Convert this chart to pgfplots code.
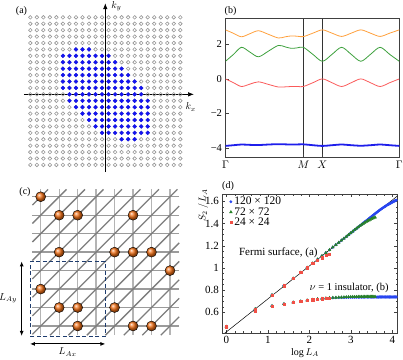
\documentclass[border=0pt]{standalone}
\usepackage{fontspec}
\setmainfont{Liberation Serif}
\usepackage{pgfplots}
\pgfplotsset{compat=1.18}
\usetikzlibrary{arrows.meta}

\definecolor{dotgray}{RGB}{150,150,150}
\definecolor{fsblue}{RGB}{20,20,240}
\definecolor{bandorange}{RGB}{255,160,60}
\definecolor{bandgreen}{RGB}{60,160,60}
\definecolor{bandred}{RGB}{250,90,90}
\definecolor{bandblue}{RGB}{30,30,235}
\definecolor{ballorange}{RGB}{240,110,20}
\definecolor{boxblue}{RGB}{30,60,110}
\definecolor{dblue}{RGB}{40,70,240}
\definecolor{dgreen}{RGB}{40,130,40}
\definecolor{dred}{RGB}{240,80,70}

\pgfplotsset{
  panel/.style={scale only axis, anchor=south west,
    axis line style={black!75}, tick style={black!75},
    tick align=inside, major tick length=3pt, minor tick length=1.5pt},
  dmark/.style={only marks,
    legend image code/.code={\draw[mark repeat=2,mark phase=2,##1] plot coordinates {(0pt,0pt)(3pt,0pt)(6pt,0pt)};}},
}

\begin{document}
\begin{tikzpicture}[x=1pt,y=1pt,font=\fontsize{10}{12}\selectfont]
\path[use as bounding box] (0,0) rectangle (403,359);

% ---------- (a) Fermi sea on the 24x24 momentum grid
\begin{axis}[scale only axis, anchor=south west,
  at={(23.8pt,187pt)}, width=170.2pt, height=168.8pt,
  xmin=-12.5, xmax=13.6, ymin=-12.1, ymax=14.2,
  axis lines=middle, axis on top, clip=false,
  xtick=\empty, ytick=\empty,
  every inner x axis line/.append style={line width=0.7pt,-{Latex[length=6pt,width=4.5pt]}},
  every inner y axis line/.append style={line width=0.7pt,-{Latex[length=6pt,width=4.5pt]}},
]
\addplot[only marks, mark=o, mark size=1.8pt, mark options={draw=dotgray, line width=0.6pt}] coordinates {
(-11.5,12)(-10.5,12)(-9.5,12)(-8.5,12)(-7.5,12)(-6.5,12)(-5.5,12)(-4.5,12)(-3.5,12)(-2.5,12)(-1.5,12)(-0.5,12)(0.5,12)(1.5,12)(2.5,12)(3.5,12)(4.5,12)(5.5,12)(6.5,12)(7.5,12)(8.5,12)(9.5,12)(10.5,12)(11.5,12)
(-11.5,11)(-10.5,11)(-9.5,11)(-8.5,11)(-7.5,11)(-6.5,11)(-5.5,11)(-4.5,11)(-3.5,11)(-2.5,11)(-1.5,11)(-0.5,11)(0.5,11)(1.5,11)(2.5,11)(3.5,11)(4.5,11)(5.5,11)(6.5,11)(7.5,11)(8.5,11)(9.5,11)(10.5,11)(11.5,11)
(-11.5,10)(-10.5,10)(-9.5,10)(-8.5,10)(-7.5,10)(-6.5,10)(-5.5,10)(-4.5,10)(-3.5,10)(-2.5,10)(-1.5,10)(-0.5,10)(0.5,10)(1.5,10)(2.5,10)(3.5,10)(4.5,10)(5.5,10)(6.5,10)(7.5,10)(8.5,10)(9.5,10)(10.5,10)(11.5,10)
(-11.5,9)(-10.5,9)(-9.5,9)(-8.5,9)(-7.5,9)(-6.5,9)(-5.5,9)(-4.5,9)(-3.5,9)(-2.5,9)(-1.5,9)(-0.5,9)(0.5,9)(1.5,9)(2.5,9)(3.5,9)(4.5,9)(5.5,9)(6.5,9)(7.5,9)(8.5,9)(9.5,9)(10.5,9)(11.5,9)
(-11.5,8)(-10.5,8)(-9.5,8)(-8.5,8)(-7.5,8)(-6.5,8)(-5.5,8)(-4.5,8)(-3.5,8)(-2.5,8)(-1.5,8)(-0.5,8)(0.5,8)(1.5,8)(2.5,8)(3.5,8)(4.5,8)(5.5,8)(6.5,8)(7.5,8)(8.5,8)(9.5,8)(10.5,8)(11.5,8)
(-11.5,7)(-10.5,7)(-9.5,7)(-8.5,7)(-7.5,7)(-6.5,7)(-5.5,7)(-4.5,7)(-3.5,7)(-2.5,7)(-1.5,7)(-0.5,7)(0.5,7)(1.5,7)(2.5,7)(3.5,7)(4.5,7)(5.5,7)(6.5,7)(7.5,7)(8.5,7)(9.5,7)(10.5,7)(11.5,7)
(-11.5,6)(-10.5,6)(-9.5,6)(-8.5,6)(-7.5,6)(-6.5,6)(-5.5,6)(-4.5,6)(-3.5,6)(-2.5,6)(-1.5,6)(-0.5,6)(0.5,6)(1.5,6)(2.5,6)(3.5,6)(4.5,6)(5.5,6)(6.5,6)(7.5,6)(8.5,6)(9.5,6)(10.5,6)(11.5,6)
(-11.5,5)(-10.5,5)(-9.5,5)(-8.5,5)(-7.5,5)(-6.5,5)(-5.5,5)(-4.5,5)(-3.5,5)(-2.5,5)(-1.5,5)(-0.5,5)(0.5,5)(1.5,5)(2.5,5)(3.5,5)(4.5,5)(5.5,5)(6.5,5)(7.5,5)(8.5,5)(9.5,5)(10.5,5)(11.5,5)
(-11.5,4)(-10.5,4)(-9.5,4)(-8.5,4)(-7.5,4)(-6.5,4)(-5.5,4)(-4.5,4)(-3.5,4)(-2.5,4)(-1.5,4)(-0.5,4)(0.5,4)(1.5,4)(2.5,4)(3.5,4)(4.5,4)(5.5,4)(6.5,4)(7.5,4)(8.5,4)(9.5,4)(10.5,4)(11.5,4)
(-11.5,3)(-10.5,3)(-9.5,3)(-8.5,3)(-7.5,3)(-6.5,3)(-5.5,3)(-4.5,3)(-3.5,3)(-2.5,3)(-1.5,3)(-0.5,3)(0.5,3)(1.5,3)(2.5,3)(3.5,3)(4.5,3)(5.5,3)(6.5,3)(7.5,3)(8.5,3)(9.5,3)(10.5,3)(11.5,3)
(-11.5,2)(-10.5,2)(-9.5,2)(-8.5,2)(-7.5,2)(-6.5,2)(-5.5,2)(-4.5,2)(-3.5,2)(-2.5,2)(-1.5,2)(-0.5,2)(0.5,2)(1.5,2)(2.5,2)(3.5,2)(4.5,2)(5.5,2)(6.5,2)(7.5,2)(8.5,2)(9.5,2)(10.5,2)(11.5,2)
(-11.5,1)(-10.5,1)(-9.5,1)(-8.5,1)(-7.5,1)(-6.5,1)(-5.5,1)(-4.5,1)(-3.5,1)(-2.5,1)(-1.5,1)(-0.5,1)(0.5,1)(1.5,1)(2.5,1)(3.5,1)(4.5,1)(5.5,1)(6.5,1)(7.5,1)(8.5,1)(9.5,1)(10.5,1)(11.5,1)
(-11.5,0)(-10.5,0)(-9.5,0)(-8.5,0)(-7.5,0)(-6.5,0)(-5.5,0)(-4.5,0)(-3.5,0)(-2.5,0)(-1.5,0)(-0.5,0)(0.5,0)(1.5,0)(2.5,0)(3.5,0)(4.5,0)(5.5,0)(6.5,0)(7.5,0)(8.5,0)(9.5,0)(10.5,0)(11.5,0)
(-11.5,-1)(-10.5,-1)(-9.5,-1)(-8.5,-1)(-7.5,-1)(-6.5,-1)(-5.5,-1)(-4.5,-1)(-3.5,-1)(-2.5,-1)(-1.5,-1)(-0.5,-1)(0.5,-1)(1.5,-1)(2.5,-1)(3.5,-1)(4.5,-1)(5.5,-1)(6.5,-1)(7.5,-1)(8.5,-1)(9.5,-1)(10.5,-1)(11.5,-1)
(-11.5,-2)(-10.5,-2)(-9.5,-2)(-8.5,-2)(-7.5,-2)(-6.5,-2)(-5.5,-2)(-4.5,-2)(-3.5,-2)(-2.5,-2)(-1.5,-2)(-0.5,-2)(0.5,-2)(1.5,-2)(2.5,-2)(3.5,-2)(4.5,-2)(5.5,-2)(6.5,-2)(7.5,-2)(8.5,-2)(9.5,-2)(10.5,-2)(11.5,-2)
(-11.5,-3)(-10.5,-3)(-9.5,-3)(-8.5,-3)(-7.5,-3)(-6.5,-3)(-5.5,-3)(-4.5,-3)(-3.5,-3)(-2.5,-3)(-1.5,-3)(-0.5,-3)(0.5,-3)(1.5,-3)(2.5,-3)(3.5,-3)(4.5,-3)(5.5,-3)(6.5,-3)(7.5,-3)(8.5,-3)(9.5,-3)(10.5,-3)(11.5,-3)
(-11.5,-4)(-10.5,-4)(-9.5,-4)(-8.5,-4)(-7.5,-4)(-6.5,-4)(-5.5,-4)(-4.5,-4)(-3.5,-4)(-2.5,-4)(-1.5,-4)(-0.5,-4)(0.5,-4)(1.5,-4)(2.5,-4)(3.5,-4)(4.5,-4)(5.5,-4)(6.5,-4)(7.5,-4)(8.5,-4)(9.5,-4)(10.5,-4)(11.5,-4)
(-11.5,-5)(-10.5,-5)(-9.5,-5)(-8.5,-5)(-7.5,-5)(-6.5,-5)(-5.5,-5)(-4.5,-5)(-3.5,-5)(-2.5,-5)(-1.5,-5)(-0.5,-5)(0.5,-5)(1.5,-5)(2.5,-5)(3.5,-5)(4.5,-5)(5.5,-5)(6.5,-5)(7.5,-5)(8.5,-5)(9.5,-5)(10.5,-5)(11.5,-5)
(-11.5,-6)(-10.5,-6)(-9.5,-6)(-8.5,-6)(-7.5,-6)(-6.5,-6)(-5.5,-6)(-4.5,-6)(-3.5,-6)(-2.5,-6)(-1.5,-6)(-0.5,-6)(0.5,-6)(1.5,-6)(2.5,-6)(3.5,-6)(4.5,-6)(5.5,-6)(6.5,-6)(7.5,-6)(8.5,-6)(9.5,-6)(10.5,-6)(11.5,-6)
(-11.5,-7)(-10.5,-7)(-9.5,-7)(-8.5,-7)(-7.5,-7)(-6.5,-7)(-5.5,-7)(-4.5,-7)(-3.5,-7)(-2.5,-7)(-1.5,-7)(-0.5,-7)(0.5,-7)(1.5,-7)(2.5,-7)(3.5,-7)(4.5,-7)(5.5,-7)(6.5,-7)(7.5,-7)(8.5,-7)(9.5,-7)(10.5,-7)(11.5,-7)
(-11.5,-8)(-10.5,-8)(-9.5,-8)(-8.5,-8)(-7.5,-8)(-6.5,-8)(-5.5,-8)(-4.5,-8)(-3.5,-8)(-2.5,-8)(-1.5,-8)(-0.5,-8)(0.5,-8)(1.5,-8)(2.5,-8)(3.5,-8)(4.5,-8)(5.5,-8)(6.5,-8)(7.5,-8)(8.5,-8)(9.5,-8)(10.5,-8)(11.5,-8)
(-11.5,-9)(-10.5,-9)(-9.5,-9)(-8.5,-9)(-7.5,-9)(-6.5,-9)(-5.5,-9)(-4.5,-9)(-3.5,-9)(-2.5,-9)(-1.5,-9)(-0.5,-9)(0.5,-9)(1.5,-9)(2.5,-9)(3.5,-9)(4.5,-9)(5.5,-9)(6.5,-9)(7.5,-9)(8.5,-9)(9.5,-9)(10.5,-9)(11.5,-9)
(-11.5,-10)(-10.5,-10)(-9.5,-10)(-8.5,-10)(-7.5,-10)(-6.5,-10)(-5.5,-10)(-4.5,-10)(-3.5,-10)(-2.5,-10)(-1.5,-10)(-0.5,-10)(0.5,-10)(1.5,-10)(2.5,-10)(3.5,-10)(4.5,-10)(5.5,-10)(6.5,-10)(7.5,-10)(8.5,-10)(9.5,-10)(10.5,-10)(11.5,-10)
(-11.5,-11)(-10.5,-11)(-9.5,-11)(-8.5,-11)(-7.5,-11)(-6.5,-11)(-5.5,-11)(-4.5,-11)(-3.5,-11)(-2.5,-11)(-1.5,-11)(-0.5,-11)(0.5,-11)(1.5,-11)(2.5,-11)(3.5,-11)(4.5,-11)(5.5,-11)(6.5,-11)(7.5,-11)(8.5,-11)(9.5,-11)(10.5,-11)(11.5,-11)
};
\addplot[only marks, mark=*, mark size=1.9pt, mark options={draw=fsblue, fill=fsblue}] coordinates {
(-4.5,7)(-3.5,7)(-2.5,7)
(-6.5,6)(-5.5,6)(-4.5,6)(-3.5,6)(-2.5,6)(-1.5,6)(-0.5,6)(0.5,6)
(-6.5,5)(-5.5,5)(-4.5,5)(-3.5,5)(-2.5,5)(-1.5,5)(-0.5,5)(0.5,5)(1.5,5)
(-6.5,4)(-5.5,4)(-4.5,4)(-3.5,4)(-2.5,4)(-1.5,4)(-0.5,4)(0.5,4)(1.5,4)(2.5,4)
(-6.5,3)(-5.5,3)(-4.5,3)(-3.5,3)(-2.5,3)(-1.5,3)(-0.5,3)(0.5,3)(1.5,3)(2.5,3)(3.5,3)
(-6.5,2)(-5.5,2)(-4.5,2)(-3.5,2)(-2.5,2)(-1.5,2)(-0.5,2)(0.5,2)(1.5,2)(2.5,2)(3.5,2)(4.5,2)
(-6.5,1)(-5.5,1)(-4.5,1)(-3.5,1)(-2.5,1)(-1.5,1)(-0.5,1)(0.5,1)(1.5,1)(2.5,1)(3.5,1)(4.5,1)(5.5,1)
(-5.5,0)(-4.5,0)(-3.5,0)(-2.5,0)(-1.5,0)(-0.5,0)(0.5,0)(1.5,0)(2.5,0)(3.5,0)(4.5,0)(5.5,0)
(-5.5,-1)(-4.5,-1)(-3.5,-1)(-2.5,-1)(-1.5,-1)(-0.5,-1)(0.5,-1)(1.5,-1)(2.5,-1)(3.5,-1)(4.5,-1)(5.5,-1)(6.5,-1)
(-4.5,-2)(-3.5,-2)(-2.5,-2)(-1.5,-2)(-0.5,-2)(0.5,-2)(1.5,-2)(2.5,-2)(3.5,-2)(4.5,-2)(5.5,-2)(6.5,-2)
(-3.5,-3)(-2.5,-3)(-1.5,-3)(-0.5,-3)(0.5,-3)(1.5,-3)(2.5,-3)(3.5,-3)(4.5,-3)(5.5,-3)(6.5,-3)
(-2.5,-4)(-1.5,-4)(-0.5,-4)(0.5,-4)(1.5,-4)(2.5,-4)(3.5,-4)(4.5,-4)(5.5,-4)(6.5,-4)
(-1.5,-5)(-0.5,-5)(0.5,-5)(1.5,-5)(2.5,-5)(3.5,-5)(4.5,-5)(5.5,-5)(6.5,-5)
(-0.5,-6)(0.5,-6)(1.5,-6)(2.5,-6)(3.5,-6)(4.5,-6)(5.5,-6)(6.5,-6)
(2.5,-7)(3.5,-7)(4.5,-7)
};
\node at (axis cs:13.1,-2.0) {$k_x$};
\node at (axis cs:1.7,13.7) {$k_y$};
\end{axis}

% ---------- (b) bands along Gamma-M-X-Gamma
\begin{axis}[panel, at={(225.5pt,201.7pt)}, width=173.8pt, height=139pt,
  xmin=0, xmax=174, ymin=-4.54, ymax=3.51,
  xtick={0,78,97,174}, xticklabels={$\Gamma$,$M$,$X$,$\Gamma$},
  ytick={-4,-2,0,2}, yticklabels={−4,−2,0,2},
  every tick label/.append style={font=\fontsize{10.5}{12}\selectfont},
  tick pos=left, xmajorgrids, major grid style={black!80, line width=0.5pt},
]
\addplot[bandorange, line width=0.8pt, smooth] coordinates {
(0,2.84)(8,2.64)(16,2.44)(24.5,2.62)(33,2.79)(43,2.58)(53,2.37)(60,2.44)(66,2.49)(72,2.47)(78,2.45)
(87.5,2.65)(97,2.84)(106.6,2.65)(116.25,2.46)(125.9,2.65)(135.5,2.84)(145.1,2.65)(154.75,2.46)(164.4,2.65)(174,2.84)};
\addplot[bandgreen, line width=0.8pt, smooth] coordinates {
(0,1.02)(8,1.42)(16,1.83)(24.5,1.55)(33,1.28)(43,1.61)(53,1.94)(60,1.85)(66,1.77)(72,1.80)(78,1.83)
(87.5,1.42)(97,1.02)(106.6,1.42)(116.25,1.83)(125.9,1.42)(135.5,1.02)(145.1,1.42)(154.75,1.83)(164.4,1.42)(174,1.02)};
\addplot[bandred, line width=0.8pt, smooth] coordinates {
(0,0)(8,-0.22)(16,-0.44)(24.5,-0.30)(33,-0.17)(43,-0.32)(53,-0.47)(60,-0.46)(66,-0.44)(72,-0.44)(78,-0.44)
(87.5,-0.22)(97,0)(106.6,-0.22)(116.25,-0.44)(125.9,-0.22)(135.5,0)(145.1,-0.22)(154.75,-0.44)(164.4,-0.22)(174,0)};
\addplot[bandblue, line width=1.8pt, smooth] coordinates {
(0,-3.88)(8,-3.84)(16,-3.80)(24.5,-3.82)(33,-3.83)(43,-3.80)(53,-3.78)(66,-3.80)(78,-3.79)
(87.5,-3.84)(97,-3.88)(106.6,-3.84)(116.25,-3.80)(125.9,-3.84)(135.5,-3.87)(145.1,-3.84)(154.75,-3.80)(164.4,-3.84)(174,-3.88)};
\end{axis}

% ---------- (c) lattice with occupied sites and subsystem
\begin{axis}[scale only axis, anchor=south west,
  at={(3.76pt,5.3pt)}, width=184.7pt, height=166.2pt,
  xmin=-2, xmax=8, ymin=-8.5, ymax=0.5,
  axis lines=none, clip=false, unbounded coords=jump,
]
\addplot[color={rgb,255:red,180;green,180;blue,180}, line width=1.3pt] coordinates {
(0,0.4)(0,-7.5)(0,nan)(1,0.4)(1,-7.5)(1,nan)(2,0.4)(2,-7.5)(2,nan)(3,0.4)(3,-7.5)(3,nan)
(4,0.4)(4,-7.5)(4,nan)(5,0.4)(5,-7.5)(5,nan)(6,0.4)(6,-7.5)(6,nan)(7,0.4)(7,-7.5)};
\addplot[color={rgb,255:red,155;green,155;blue,155}, line width=1.3pt] coordinates {
(-0.45,0)(7.5,0)(nan,0)(-0.45,-1)(7.5,-1)(nan,-1)(-0.45,-2)(7.5,-2)(nan,-2)(-0.45,-3)(7.5,-3)(nan,-3)
(-0.45,-4)(7.5,-4)(nan,-4)(-0.45,-5)(7.5,-5)(nan,-5)(-0.45,-6)(7.5,-6)(nan,-6)(-0.45,-7)(7.5,-7)};
\addplot[color={rgb,255:red,125;green,125;blue,125}, line width=1.3pt] coordinates {
(-0.45,-0.45)(0.4,0.4)(nan,0)(-0.45,-1.45)(1.4,0.4)(nan,0)(-0.45,-2.45)(2.4,0.4)(nan,0)
(-0.45,-3.45)(3.4,0.4)(nan,0)(-0.45,-4.45)(4.4,0.4)(nan,0)(-0.45,-5.45)(5.4,0.4)(nan,0)
(-0.45,-6.45)(6.4,0.4)(nan,0)(-0.45,-7.45)(7.4,0.4)(nan,0)(0.5,-7.5)(7.5,-0.5)(nan,0)
(1.5,-7.5)(7.5,-1.5)(nan,0)(2.5,-7.5)(7.5,-2.5)(nan,0)(3.5,-7.5)(7.5,-3.5)(nan,0)
(4.5,-7.5)(7.5,-4.5)(nan,0)(5.5,-7.5)(7.5,-5.5)(nan,0)(6.5,-7.5)(7.5,-6.5)};
\addplot[boxblue, line width=0.9pt, dash pattern=on 4pt off 2.5pt] coordinates {
(-0.58,-3.5)(3.5,-3.5)(3.5,-7.54)(-0.58,-7.54)(-0.58,-3.5)};
\addplot[only marks, mark=ball, mark size=5pt, mark options={ball color=ballorange}] coordinates {
(0,0)(1,-1)(2,-1)(5,-1)(1,-3)(4,-3)(5,-3)(6,-3)(7,-4)(0,-5)(1,-6)(2,-6)(4,-6)(2,-7)(5,-7)(6,-7)};
\addplot[black, line width=0.9pt, {Latex[length=5pt,width=4pt]}-{Latex[length=5pt,width=4pt]}] coordinates {(-1.03,-3.5)(-1.03,-7.54)};
\addplot[black, line width=0.9pt, {Latex[length=5pt,width=4pt]}-{Latex[length=5pt,width=4pt]}] coordinates {(-0.58,-7.97)(3.5,-7.97)};
\node[anchor=east] at (axis cs:-1.1,-5.5) {$L_{Ay}$};
\node at (axis cs:1.46,-8.42) {$L_{Ax}$};
\end{axis}

% ---------- (d) entanglement scaling
\begin{axis}[panel, at={(222.3pt,26.3pt)}, width=175pt, height=138.4pt,
  xmin=-0.1, xmax=4.12, ymin=0.416, ymax=1.663,
  xtick={0,1,2,3,4}, xticklabels={0,1,2,3,4}, minor x tick num=4,
  ytick={0.6,0.8,1,1.2,1.4,1.6}, yticklabels={0.6,0.8,1,1.2,1.4,1.6}, minor y tick num=3,
  every tick label/.append style={font=\fontsize{11}{13}\selectfont},
  tick pos=both,
  legend style={at={(0.04,0.995)}, anchor=north west, draw=none, fill=none,
    font=\fontsize{11.5}{12}\selectfont, row sep=-0.8pt, inner xsep=0pt, inner ysep=1pt,
    nodes={inner xsep=2pt, inner ysep=1pt}},
  legend cell align=left,
]
\addplot[dmark, mark=*, mark size=1.3pt, mark options={draw=dblue, fill=dblue}] coordinates {
(0,0.470)(0.693,0.630)(1.099,0.756)(1.386,0.840)(1.609,0.905)(1.792,0.958)(1.946,1.003)(2.079,1.041)(2.197,1.077)(2.303,1.108)(2.398,1.136)(2.485,1.162)(2.565,1.186)(2.639,1.208)(2.708,1.228)(2.773,1.248)(2.833,1.265)(2.890,1.282)(2.944,1.298)(2.996,1.314)(3.045,1.328)(3.091,1.342)(3.135,1.355)(3.178,1.368)(3.219,1.380)(3.258,1.392)(3.296,1.403)(3.332,1.414)(3.367,1.424)(3.401,1.434)(3.434,1.444)(3.466,1.453)(3.497,1.463)(3.526,1.471)(3.555,1.480)(3.584,1.488)(3.611,1.496)(3.638,1.504)(3.664,1.512)(3.689,1.519)(3.714,1.526)(3.738,1.532)(3.761,1.538)(3.784,1.544)(3.807,1.550)(3.829,1.555)(3.850,1.560)(3.871,1.565)(3.892,1.570)(3.912,1.574)(3.932,1.578)(3.951,1.582)(3.970,1.586)(3.989,1.590)(4.007,1.594)(4.025,1.597)(4.043,1.601)(4.060,1.604)(4.078,1.607)(4.094,1.610)};
\addlegendentry{120 × 120}
\addplot[dmark, mark=triangle*, mark size=1.6pt, mark options={draw=dgreen, fill=dgreen}] coordinates {
(0,0.470)(0.693,0.630)(1.099,0.756)(1.386,0.840)(1.609,0.905)(1.792,0.958)(1.946,1.003)(2.079,1.041)(2.197,1.077)(2.303,1.108)(2.398,1.136)(2.485,1.162)(2.565,1.186)(2.639,1.208)(2.708,1.228)(2.773,1.248)(2.833,1.265)(2.890,1.282)(2.944,1.298)(2.996,1.314)(3.045,1.328)(3.091,1.342)(3.135,1.355)(3.178,1.367)(3.219,1.378)(3.258,1.389)(3.296,1.398)(3.332,1.407)(3.367,1.414)(3.401,1.422)(3.434,1.429)(3.466,1.435)(3.497,1.441)(3.526,1.446)(3.555,1.452)(3.584,1.456)};
\addlegendentry{72 × 72}
\addplot[dmark, mark=square*, mark size=1.1pt, mark options={draw=dred, fill=dred}] coordinates {
(0,0.470)(0.693,0.630)(1.099,0.756)(1.386,0.840)(1.609,0.905)(1.792,0.958)(1.946,1.002)(2.079,1.040)(2.197,1.068)(2.303,1.092)(2.398,1.111)(2.485,1.125)};
\addlegendentry{24 × 24}
\addplot[only marks, mark=*, mark size=1.3pt, mark options={draw=dblue, fill=dblue}, forget plot] coordinates {
(0,0.470)(0.693,0.615)(1.099,0.657)(1.386,0.675)(1.609,0.690)(1.792,0.699)(1.946,0.708)(2.079,0.714)(2.197,0.719)(2.303,0.723)(2.398,0.726)(2.485,0.728)(2.565,0.730)(2.639,0.731)(2.708,0.732)(2.773,0.733)(2.833,0.733)(2.890,0.734)(2.944,0.734)(2.996,0.735)(3.045,0.735)(3.091,0.735)(3.135,0.736)(3.178,0.736)(3.219,0.736)(3.258,0.736)(3.296,0.736)(3.332,0.737)(3.367,0.737)(3.401,0.737)(3.434,0.737)(3.466,0.737)(3.497,0.737)(3.526,0.737)(3.555,0.737)(3.584,0.737)(3.611,0.737)(3.638,0.737)(3.664,0.737)(3.689,0.738)(3.714,0.738)(3.738,0.738)(3.761,0.738)(3.784,0.738)(3.807,0.738)(3.829,0.738)(3.850,0.738)(3.871,0.738)(3.892,0.738)(3.912,0.738)(3.932,0.738)(3.951,0.738)(3.970,0.738)(3.989,0.738)(4.007,0.738)(4.025,0.738)(4.043,0.738)(4.060,0.738)(4.078,0.738)(4.094,0.738)};
\addplot[only marks, mark=triangle*, mark size=1.6pt, mark options={draw=dgreen, fill=dgreen}, forget plot] coordinates {
(0,0.470)(0.693,0.615)(1.099,0.657)(1.386,0.675)(1.609,0.690)(1.792,0.699)(1.946,0.708)(2.079,0.714)(2.197,0.719)(2.303,0.723)(2.398,0.726)(2.485,0.729)(2.565,0.731)(2.639,0.733)(2.708,0.734)(2.773,0.735)(2.833,0.736)(2.890,0.737)(2.944,0.738)(2.996,0.738)(3.045,0.739)(3.091,0.739)(3.135,0.739)(3.178,0.740)(3.219,0.740)(3.258,0.740)(3.296,0.740)(3.332,0.740)(3.367,0.741)(3.401,0.741)(3.434,0.741)(3.466,0.741)(3.497,0.741)(3.526,0.741)(3.555,0.741)(3.584,0.741)};
\addplot[only marks, mark=square*, mark size=1.1pt, mark options={draw=dred, fill=dred}, forget plot] coordinates {
(0,0.470)(0.693,0.615)(1.099,0.657)(1.386,0.675)(1.609,0.690)(1.792,0.699)(1.946,0.708)(2.079,0.714)(2.197,0.719)(2.303,0.723)(2.398,0.726)(2.485,0.728)};
\addplot[black, line width=0.5pt, forget plot] coordinates {(-0.1,0.394)(4.2,1.671)};
\node[anchor=west, font=\fontsize{11}{12}\selectfont] at (axis cs:0.22,1.14) {Fermi surface, (a)};
\node[anchor=west, font=\fontsize{10.5}{12}\selectfont, inner xsep=0pt] at (axis cs:2.0,0.816) {$\nu$ = 1 insulator, (b)};
\end{axis}

\node at (305,6) {$\log L_A$};
\node[rotate=90] at (203,154) {$S_2\,/\,L_A$};

\node at (21.5,347.5) {(a)};
\node at (230.5,347.5) {(b)};
\node at (25,167) {(c)};
\node at (228,173) {(d)};
\end{tikzpicture}
\end{document}
